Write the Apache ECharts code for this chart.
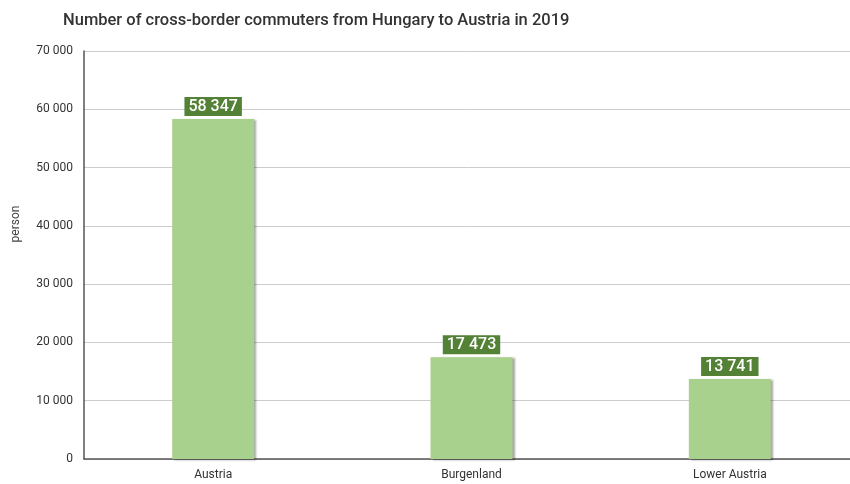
<!DOCTYPE html>
<html>
<head>
<meta charset="utf-8">
<script src="https://cdn.jsdelivr.net/npm/echarts@6/dist/echarts.min.js"></script>
<style>
  html, body { margin: 0; padding: 0; background: #fff; }
  #chart { width: 850px; height: 484px; }
</style>
</head>
<body>
<div id="chart"></div>
<script>
// Cross-border commuters from Hungary to Austria, 2019
const regions = ['Austria', 'Burgenland', 'Lower Austria'];
const commuters = [58347, 17473, 13741];
const yTicks = [0, 10000, 20000, 30000, 40000, 50000, 60000, 70000];

const fmt = v => String(v).replace(/\B(?=(\d{3})+(?!\d))/g, ' ');

const chart = echarts.init(document.getElementById('chart'), null, { renderer: 'canvas' });
chart.setOption({
  backgroundColor: '#ffffff',
  textStyle: { fontFamily: 'Roboto' },
  title: {
    text: 'Number of cross-border commuters from Hungary to Austria in 2019',
    left: 58,
    top: 7,
    textStyle: { fontFamily: 'Roboto', fontSize: 16.5, fontWeight: 500, color: '#333333' }
  },
  grid: { left: 84, top: 51, width: 775, height: 408, containLabel: false, outerBoundsMode: 'none' },
  xAxis: {
    type: 'category',
    data: regions,
    axisLine: { lineStyle: { color: '#555555', width: 1.5 } },
    axisTick: { show: false },
    axisLabel: { color: '#333333', fontSize: 12, margin: 10, fontFamily: 'Roboto' }
  },
  yAxis: {
    type: 'value',
    min: yTicks[0],
    max: yTicks[yTicks.length - 1],
    interval: 10000,
    name: 'person',
    nameLocation: 'middle',
    nameRotate: 90,
    nameGap: 62,
    // axis title sits a little above the vertical centre
    nameTextStyle: { color: '#444444', fontSize: 12, fontFamily: 'Roboto', padding: [0, 0, 0, 62] },
    axisLine: { show: true, lineStyle: { color: '#555555', width: 1.5 } },
    axisTick: { show: false },
    axisLabel: { color: '#333333', fontSize: 12, margin: 11, formatter: fmt, fontFamily: 'Roboto' },
    splitLine: { lineStyle: { color: '#cccccc', width: 1 } }
  },
  series: [{
    type: 'bar',
    data: commuters,
    barWidth: 82,
    itemStyle: {
      color: '#a9d18e',
      shadowColor: 'rgba(0,0,0,0.35)',
      shadowBlur: 2,
      shadowOffsetX: 2,
      shadowOffsetY: 1
    },
    label: {
      show: true,
      position: 'top',
      distance: 3,
      formatter: p => fmt(p.value),
      color: '#ffffff',
      fontSize: 16,
      fontWeight: 500,
      fontFamily: 'Roboto',
      backgroundColor: '#538135',
      padding: [2, 4, 1, 4]
    }
  }]
});
</script>
</body>
</html>
